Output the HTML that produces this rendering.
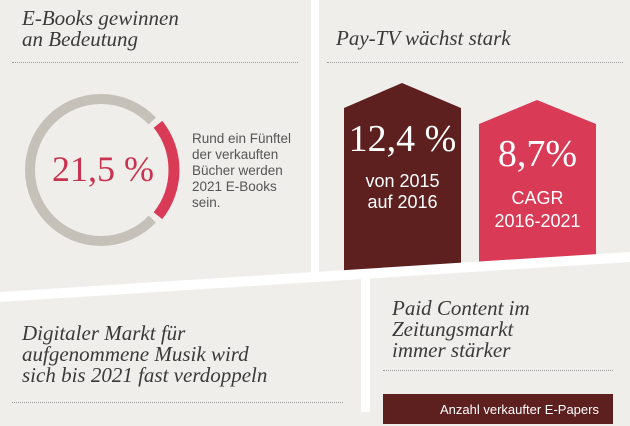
<!DOCTYPE html>
<html><head><meta charset="utf-8"><style>
body{margin:0;width:630px;height:412px;overflow:hidden;background:#efeeeb;position:relative;font-family:"Liberation Sans",sans-serif}
.t{position:absolute;font-family:"Liberation Serif",serif;font-style:italic;color:#3a3a3a;font-size:21px;line-height:21px;white-space:nowrap}
.dot{position:absolute;height:0;border-top:1px dotted #9a9a9a}
.a{position:absolute;white-space:nowrap}
</style></head><body>
<div class="t" style="left:22px;top:8px">E-Books gewinnen<br>an Bedeutung</div>
<div class="dot" style="left:12px;top:62px;width:286px"></div>
<div class="t" style="left:336px;top:28px">Pay-TV wächst stark</div>
<div class="dot" style="left:327px;top:62px;width:296px"></div>

<svg id="donut" width="300" height="300" style="position:absolute;left:0;top:0"></svg>
<div class="a" style="left:52px;top:148px;font-family:'Liberation Serif',serif;font-size:36px;color:#c8344f">21,5 %</div>
<div class="a" style="left:192px;top:131px;font-size:13.5px;line-height:16px;color:#555">Rund ein Fünftel<br>der verkauften<br>Bücher werden<br>2021 E-Books<br>sein.</div>

<svg width="630" height="412" style="position:absolute;left:0;top:0">
<polygon points="344,108 402,83 461,108 461,266 344,274" fill="#5e1f1f"/>
<polygon points="479,124 537,100 596,124 596,257 479,265" fill="#d93a56"/>
</svg>
<div class="a" style="left:344px;width:117px;text-align:center;top:117px;font-family:'Liberation Serif',serif;font-size:38px;color:#fff">12,4 %</div>
<div class="a" style="left:344px;width:117px;text-align:center;top:171px;font-size:18px;line-height:21px;color:#fff">von 2015<br>auf 2016</div>
<div class="a" style="left:479px;width:117px;text-align:center;top:132px;font-family:'Liberation Serif',serif;font-size:38px;color:#fff">8,7%</div>
<div class="a" style="left:479px;width:117px;text-align:center;top:187px;font-size:18px;line-height:23px;color:#fff">CAGR<br>2016-2021</div>

<div class="t" style="left:22px;top:323px">Digitaler Markt für<br>aufgenommene Musik wird<br>sich bis 2021 fast verdoppeln</div>
<div class="dot" style="left:12px;top:402px;width:331px"></div>
<div class="t" style="left:392px;top:298px">Paid Content im<br>Zeitungsmarkt<br>immer stärker</div>
<div class="dot" style="left:383px;top:370px;width:230px"></div>
<div class="a" style="left:383px;top:394px;width:230px;height:30px;background:#5e1f1f;color:#fff;font-size:13px;padding-left:57px;box-sizing:border-box;line-height:32px">Anzahl verkaufter E-Papers</div>

<svg width="630" height="412" style="position:absolute;left:0;top:0">
<rect x="311" y="0" width="8" height="280" fill="#fff"/>
<polygon points="0,292 630,252 630,262 0,302" fill="#fff"/>
<rect x="361" y="270" width="9" height="142" fill="#fff"/>
</svg>
<script>
const shareValues=[21.5];
const shareLabels=["E-Books"];
const svg=document.getElementById('donut');
const cx=101,cy=170,r=71,w=10,gap=5;
function arc(a0,a1,rr){const p=(a)=>[cx+rr*Math.cos(a*Math.PI/180),cy+rr*Math.sin(a*Math.PI/180)];
const[s0,s1]=p(a0),[e0,e1]=p(a1);return `M${s0},${s1} A${rr},${rr} 0 ${a1-a0>180?1:0} 1 ${e0},${e1}`;}
const deg=shareValues[0]*3.6;
const start=-deg/2,end=deg/2;
const ns='http://www.w3.org/2000/svg';
const g=document.createElementNS(ns,'path');
g.setAttribute('d',arc(end+gap,360+start-gap,r));
g.setAttribute('stroke','#c5c1b8');g.setAttribute('stroke-width',w);g.setAttribute('fill','none');


svg.appendChild(g);
const p=document.createElementNS(ns,'path');
p.setAttribute('d',arc(start,end,r+2));
p.setAttribute('stroke','#d93a56');p.setAttribute('stroke-width',w+1);p.setAttribute('fill','none');


svg.appendChild(p);
</script>
</body></html>
